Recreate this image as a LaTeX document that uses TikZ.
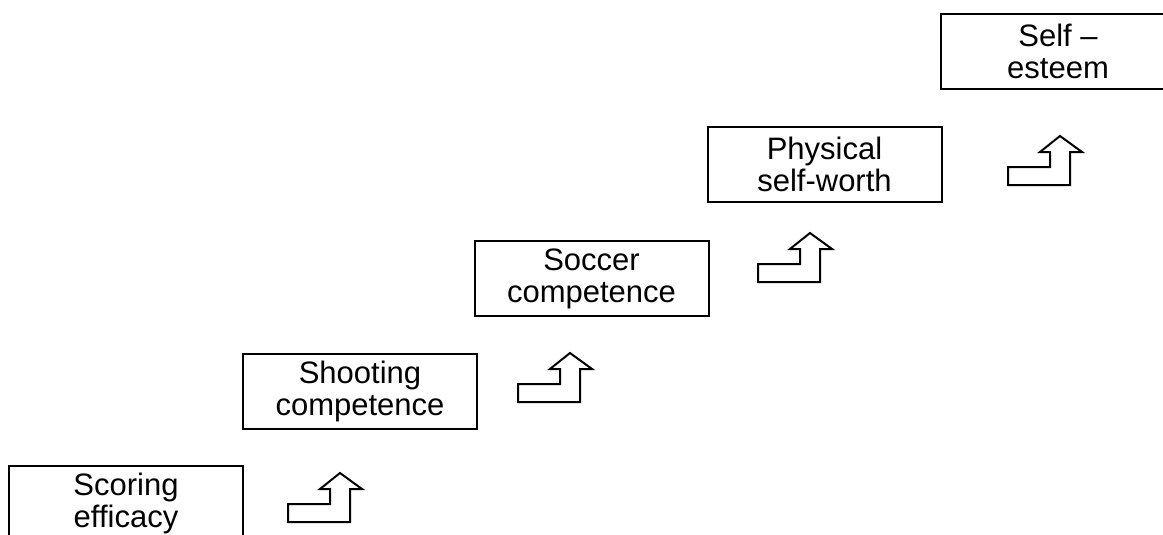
\documentclass[tikz,border=0pt]{standalone}
\usepackage{fontspec}
\setmainfont{Liberation Sans}
\tikzset{
  stage/.style={draw, line width=2pt, minimum width=234pt, minimum height=75pt,
    align=center, inner sep=0pt, font=\fontsize{31}{32}\selectfont},
  steparrow/.pic={
    \draw[line width=2pt, line join=miter] (0,0) -- (62,0) -- (62,-33) -- (74,-33)
      -- (52,-49) -- (32,-33) -- (42,-33) -- (42,-18) -- (0,-18) -- cycle;
  }
}
\begin{document}
\begin{tikzpicture}[x=1pt,y=-1pt]
  \clip (0,0) rectangle (1163,535);
  \node[stage] (scoring) at (126,503.5) {Scoring\\efficacy};
  \node[stage] (shooting) at (360,391.5) {Shooting\\competence};
  \node[stage] (soccer) at (591.5,278.5) {Soccer\\competence};
  \node[stage] (physical) at (824.5,164) {Physical\\self-worth};
  \node[stage] (self) at (1058,51.5) {Self --\\esteem};
  \foreach \x/\y in {288/522,518/402,758/282,1008/185} {
    \pic at (\x,\y) {steparrow};
  }
\end{tikzpicture}
\end{document}
